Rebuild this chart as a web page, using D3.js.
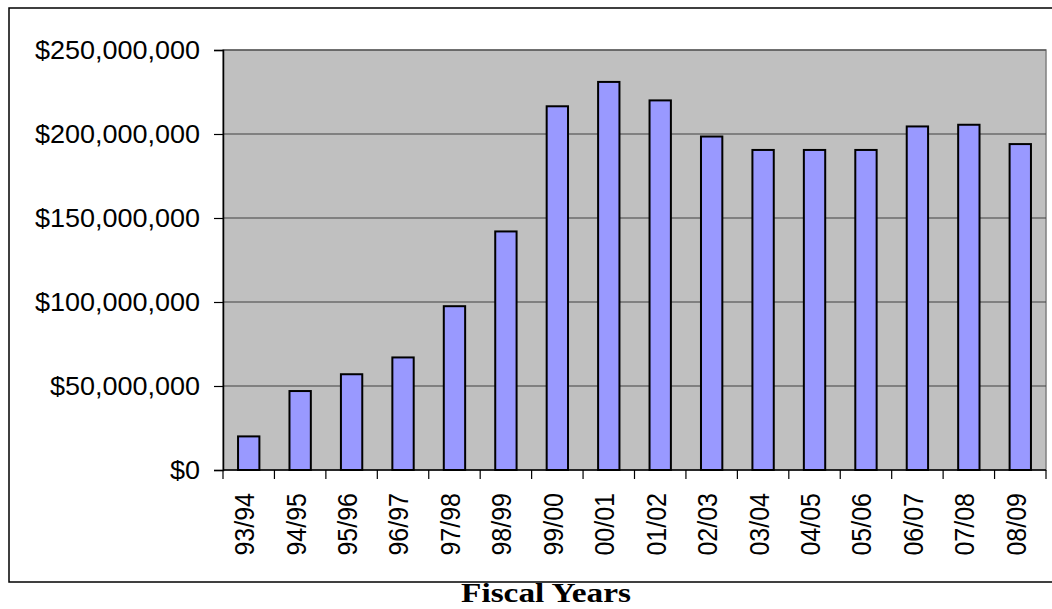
<!DOCTYPE html>
<html>
<head>
<meta charset="utf-8">
<script src="https://cdn.jsdelivr.net/npm/d3@7"></script>
<style>
  html, body { margin: 0; padding: 0; background: #ffffff; }
  svg { display: block; }
</style>
</head>
<body>
<svg id="chart" width="1052" height="609"></svg>
<script>
// Fiscal years shown along the horizontal axis
const categories = ["93/94", "94/95", "95/96", "96/97", "97/98", "98/99", "99/00", "00/01",
                    "01/02", "02/03", "03/04", "04/05", "05/06", "06/07", "07/08", "08/09"];
// Annual amounts in dollars
const amounts = [20000000, 47000000, 57000000, 67000000, 97500000, 142000000, 216500000, 231000000,
                 220000000, 198500000, 190500000, 190500000, 190500000, 204500000, 205500000, 194000000];
// Value axis ticks
const yTicks = [0, 50000000, 100000000, 150000000, 200000000, 250000000];

const svg = d3.select("#chart");
const plot = { left: 223, right: 1046, top: 50, bottom: 470 };

const x = d3.scaleBand()
  .domain(categories)
  .range([plot.left, plot.right])
  .paddingInner(0.585)
  .paddingOuter(0.2925);

const y = d3.scaleLinear()
  .domain([0, 250000000])
  .range([plot.bottom, plot.top]);

const money = d => "$" + d3.format(",")(d);

// Chart frame
svg.append("rect")
  .attr("x", 9).attr("y", 8)
  .attr("width", 1070).attr("height", 574)
  .attr("fill", "none").attr("stroke", "#000").attr("stroke-width", 1.5);

// Plot background
svg.append("rect")
  .attr("x", plot.left).attr("y", plot.top)
  .attr("width", plot.right - plot.left).attr("height", plot.bottom - plot.top)
  .attr("fill", "#c0c0c0")
  .attr("stroke", "#808080").attr("stroke-width", 1.5);

// Horizontal gridlines
svg.append("g")
  .selectAll("line")
  .data(yTicks.filter(d => d > 0))
  .join("line")
  .attr("x1", plot.left).attr("x2", plot.right)
  .attr("y1", d => y(d)).attr("y2", d => y(d))
  .attr("stroke", "#404040").attr("stroke-width", 1);

// Bars
svg.append("g")
  .selectAll("rect")
  .data(categories.map((c, i) => ({ c, v: amounts[i] })))
  .join("rect")
  .attr("x", d => x(d.c))
  .attr("y", d => y(d.v))
  .attr("width", x.bandwidth())
  .attr("height", d => y(0) - y(d.v))
  .attr("fill", "#9999ff")
  .attr("stroke", "#000").attr("stroke-width", 2);

// Value axis
const yAxis = svg.append("g")
  .attr("transform", `translate(${plot.left},0)`)
  .call(d3.axisLeft(y).tickValues(yTicks).tickFormat(money).tickSize(9).tickPadding(0));
yAxis.select(".domain").attr("stroke", "#000").attr("stroke-width", 1.5);
yAxis.selectAll(".tick line").attr("stroke", "#000").attr("stroke-width", 1.2);
yAxis.selectAll(".tick text").remove();
yAxis.selectAll(".tick")
  .append("text")
  .attr("transform", "translate(-23,0) scale(1.08,1)")
  .attr("text-anchor", "end")
  .attr("dy", "0.35em")
  .attr("fill", "#000")
  .style("font-family", "'Liberation Sans', Arial, sans-serif")
  .style("font-size", "25px")
  .text(d => money(d));

// Category axis
const step = x.step();
const bounds = d3.range(categories.length + 1).map(i => plot.left + i * step);
const xAxis = svg.append("g");
xAxis.append("line")
  .attr("x1", plot.left).attr("x2", plot.right)
  .attr("y1", plot.bottom).attr("y2", plot.bottom)
  .attr("stroke", "#000").attr("stroke-width", 1.5);
xAxis.selectAll("line.tick")
  .data(bounds)
  .join("line")
  .attr("class", "tick")
  .attr("x1", d => d).attr("x2", d => d)
  .attr("y1", plot.bottom).attr("y2", plot.bottom + 9)
  .attr("stroke", "#000").attr("stroke-width", 1.2);
xAxis.selectAll("text")
  .data(categories)
  .join("text")
  .attr("transform", d => `translate(${x(d) + x.bandwidth() / 2 - 4},${plot.bottom + 23}) scale(1.08,1) rotate(-90)`)
  .attr("text-anchor", "end")
  .attr("dy", "0.35em")
  .attr("fill", "#000")
  .style("font-family", "'Liberation Sans', Arial, sans-serif")
  .style("font-size", "25px")
  .text(d => d);

// Axis title
svg.append("text")
  .attr("transform", "translate(546,602) scale(1.19,1)")
  .attr("text-anchor", "middle")
  .attr("fill", "#000")
  .style("font-family", "'Liberation Serif', 'Times New Roman', serif")
  .style("font-weight", "bold")
  .style("font-size", "28px")
  .text("Fiscal Years");
</script>
</body>
</html>
